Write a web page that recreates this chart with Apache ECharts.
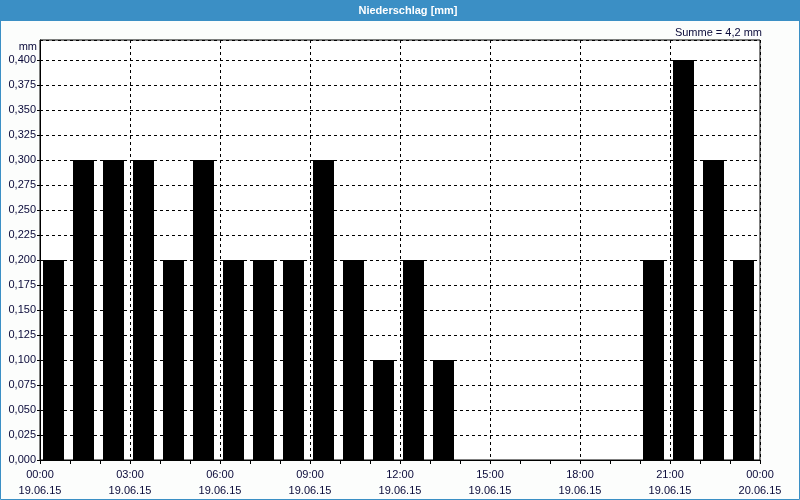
<!DOCTYPE html>
<html><head><meta charset="utf-8">
<script src="https://cdn.jsdelivr.net/npm/echarts@6/dist/echarts.min.js"></script>
<style>html,body{margin:0;padding:0;background:#fff}#c{width:800px;height:500px}</style>
</head><body><div id="c"></div>
<script>
const hours = [0,1,2,3,4,5,6,7,8,9,10,11,12,13,14,15,16,17,18,19,20,21,22,23];
const rain = [0.2,0.3,0.3,0.3,0.2,0.3,0.2,0.2,0.2,0.3,0.2,0.1,0.2,0.1,0,0,0,0,0,0,0.2,0.4,0.3,0.2];
const timeLabels = {0:'00:00',3:'03:00',6:'06:00',9:'09:00',12:'12:00',15:'15:00',18:'18:00',21:'21:00',24:'00:00'};
const dateLabels = {day1:'19.06.15', day2:'20.06.15'};
const title = 'Niederschlag [mm]';
const unit = 'mm';
const sumText = 'Summe = 4,2 mm';

const font = 'Liberation Sans';
const txt = '#0a0a3a';
const chart = echarts.init(document.getElementById('c'), null, {renderer:'canvas'});
chart.setOption({
  backgroundColor:'#fcfdfc',
  animation:false,
  grid:{left:40,right:40,top:40,bottom:40,show:true,borderColor:'#000',borderWidth:1,backgroundColor:'#fff',
    outerBoundsMode:'none',containLabel:false},
  xAxis:{type:'value',min:0,max:24,interval:3,
    axisLine:{show:true,lineStyle:{color:'#000'}},
    axisTick:{show:true,length:4,lineStyle:{color:'#000'}},
    minorTick:{show:true,splitNumber:3,length:4,lineStyle:{color:'#000'}},
    splitLine:{show:true,lineStyle:{color:'#000',type:[3,3],width:1}},
    axisLabel:{color:txt,fontFamily:font,fontSize:11,lineHeight:16,margin:7,
      formatter:v=>timeLabels[v]+'\n'+(v===24?dateLabels.day2:dateLabels.day1)}},
  yAxis:{type:'value',min:0,max:0.42,interval:0.025,
    axisLine:{show:true,lineStyle:{color:'#000'}},
    axisTick:{show:true,length:3,lineStyle:{color:'#000'}},
    splitLine:{show:true,lineStyle:{color:'#000',type:[3,3],width:1}},
    axisLabel:{color:txt,fontFamily:font,fontSize:11,margin:4,showMaxLabel:false,
      formatter:v=>v>0.4001?'':v.toFixed(3).replace('.',',')}},
  series:[{type:'bar',barWidth:21,itemStyle:{color:'#000'},
    data:hours.map((h,i)=>[h+0.45,rain[i]])}],
  graphic:[
    {type:'rect',shape:{x:0,y:0,width:800,height:21},style:{fill:'#3b8fc5'},z:10},
    {type:'text',x:408,y:11,style:{text:title,fill:'#fff',font:'bold 11px "Liberation Sans"',textAlign:'center',textVerticalAlign:'middle'},z:11},
    {type:'rect',shape:{x:0.5,y:0.5,width:799,height:499},style:{fill:null,stroke:'#3b8fc5',lineWidth:1},z:10},
    {type:'text',x:762,y:33,style:{text:sumText,fill:txt,font:'11px "Liberation Sans"',textAlign:'right',textVerticalAlign:'middle'},z:11},
    {type:'text',x:37,y:47,style:{text:unit,fill:txt,font:'11px "Liberation Sans"',textAlign:'right',textVerticalAlign:'middle'},z:11}
  ]
});
</script></body></html>
